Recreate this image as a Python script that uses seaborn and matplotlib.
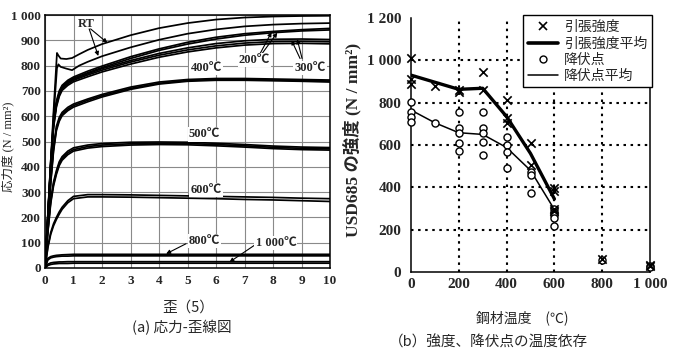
import matplotlib
matplotlib.use('Agg')
import matplotlib.pyplot as plt
import seaborn as sns
import pandas as pd
from matplotlib.lines import Line2D

# ---------------- data: (a) stress-strain curves ----------------
strain_rt = [0, 0.2, 0.3, 0.42, 0.47, 0.55, 0.75, 0.95, 1.2, 1.5, 2, 3, 4, 5, 6, 7, 8, 9, 10]
rt_upper = [0, 420, 620, 850, 840, 828, 826, 830, 845, 862, 885, 920, 948, 968, 982, 990, 994, 996, 997]
rt_lower = [0, 400, 600, 790, 805, 795, 788, 782, 800, 815, 837, 872, 902, 926, 943, 955, 962, 966, 968]

strain_g = [0, 0.1, 0.2, 0.3, 0.4, 0.5, 0.6, 0.8, 1.0, 1.5, 2, 3, 4, 5, 6, 7, 8, 9, 10]
c200a = [0, 210, 420, 580, 660, 700, 722, 742, 755, 778, 798, 835, 866, 892, 912, 926, 935, 942, 947]
c200b = [0, 205, 410, 570, 650, 692, 716, 737, 750, 772, 792, 828, 860, 885, 905, 920, 930, 937, 941]
c300a = [0, 205, 410, 570, 650, 690, 713, 733, 746, 768, 788, 820, 848, 870, 887, 898, 904, 905, 903]
c300b = [0, 200, 400, 560, 642, 684, 708, 728, 742, 763, 782, 814, 841, 862, 878, 889, 895, 896, 894]
c300c = [0, 200, 400, 555, 636, 678, 702, 722, 736, 756, 775, 806, 833, 854, 870, 881, 887, 888, 886]
c400a = [0, 180, 350, 480, 560, 595, 615, 635, 648, 668, 686, 715, 735, 745, 749, 749, 747, 745, 743]
c400b = [0, 175, 340, 470, 550, 588, 608, 628, 642, 663, 681, 710, 730, 741, 745, 745, 743, 741, 739]
c400c = [0, 170, 335, 462, 543, 580, 602, 622, 636, 657, 676, 706, 727, 738, 742, 742, 740, 738, 735]
c500a = [0, 150, 270, 340, 385, 420, 440, 462, 475, 486, 492, 497, 498, 497, 493, 488, 482, 478, 476]
c500b = [0, 145, 262, 332, 377, 412, 433, 455, 468, 480, 486, 491, 493, 492, 488, 483, 477, 473, 471]
c500c = [0, 140, 255, 325, 370, 405, 426, 448, 462, 474, 480, 486, 488, 487, 483, 478, 472, 468, 466]
c600a = [0, 85, 140, 175, 200, 222, 240, 266, 283, 290, 290, 289, 287, 285, 283, 281, 279, 276, 274]
c600b = [0, 80, 133, 167, 192, 213, 232, 258, 274, 281, 281, 280, 278, 276, 274, 271, 269, 266, 263]
c800a = [0, 38, 45, 48, 50, 51, 52, 53, 54, 54, 54, 54, 54, 54, 54, 54, 54, 54, 54]
c800b = [0, 32, 40, 43, 45, 46, 47, 47, 48, 48, 48, 48, 48, 48, 48, 48, 48, 48, 48]
c1000a = [0, 15, 20, 22, 23, 24, 24, 25, 25, 25, 25, 25, 25, 25, 25, 25, 25, 25, 25]
c1000b = [0, 10, 14, 16, 17, 18, 18, 18, 19, 19, 19, 19, 19, 19, 19, 19, 19, 19, 19]

left_xticks = [0, 1, 2, 3, 4, 5, 6, 7, 8, 9, 10]
left_yticks = [0, 100, 200, 300, 400, 500, 600, 700, 800, 900, 1000]
left_ylabels = ['0', '100', '200', '300', '400', '500', '600', '700', '800', '900', '1 000']

# ---------------- data: (b) strength vs temperature ----------------
ts_temp = [0, 0, 0, 100, 200, 200, 300, 300, 400, 400, 400, 500, 500, 600, 600, 600, 600, 800, 1000, 1000]
ts_val = [1010, 910, 890, 880, 860, 850, 945, 860, 812, 727, 705, 608, 505, 395, 385, 300, 290, 62, 35, 28]
yp_temp = [0, 0, 0, 0, 100, 200, 200, 200, 200, 200, 300, 300, 300, 300, 300,
           400, 400, 400, 400, 500, 500, 500, 600, 600, 600, 600, 600, 800, 1000, 1000]
yp_val = [805, 757, 734, 710, 705, 757, 682, 658, 608, 572, 757, 679, 658, 616, 553,
          639, 600, 568, 490, 474, 460, 372, 300, 285, 270, 255, 215, 58, 30, 22]
avg_ts_temp = [0, 200, 300, 400, 500, 600]
avg_ts_val = [930, 863, 868, 734, 560, 345]
avg_yp_temp = [0, 100, 200, 300, 400, 500, 600]
avg_yp_val = [765, 705, 658, 650, 588, 480, 295]
right_xticks = [0, 200, 400, 600, 800, 1000]
right_xlabels = ['0', '200', '400', '600', '800', '1 000']
right_yticks = [0, 200, 400, 600, 800, 1000, 1200]
right_ylabels = ['0', '200', '400', '600', '800', '1 000', '1 200']
legend_labels = ['引張強度', '引張強度平均', '降伏点', '降伏点平均']

sns.set_style('white')
SERIF = ['Liberation Serif', 'Noto Sans CJK JP', 'DejaVu Sans']
CJK = ['Noto Sans CJK JP', 'DejaVu Sans']
plt.rcParams['font.family'] = SERIF

fig = plt.figure(figsize=(6.76, 3.55), dpi=100)
axL = fig.add_axes([45/676, 87/355, 285/676, 253/355])
axR = fig.add_axes([411/676, 83/355, 239/676, 254/355])

# ---------------- left panel ----------------
curves = {'RTa': (strain_rt, rt_upper), 'RTb': (strain_rt, rt_lower),
          '200a': (strain_g, c200a), '200b': (strain_g, c200b),
          '300a': (strain_g, c300a), '300b': (strain_g, c300b), '300c': (strain_g, c300c),
          '400a': (strain_g, c400a), '400b': (strain_g, c400b), '400c': (strain_g, c400c),
          '500a': (strain_g, c500a), '500b': (strain_g, c500b), '500c': (strain_g, c500c),
          '600a': (strain_g, c600a), '600b': (strain_g, c600b),
          '800a': (strain_g, c800a), '800b': (strain_g, c800b),
          '1000a': (strain_g, c1000a), '1000b': (strain_g, c1000b)}
rows = []
for name, (xs, ys) in curves.items():
    for xv, yv in zip(xs, ys):
        rows.append({'curve': name, 'strain': xv, 'stress': yv})
df = pd.DataFrame(rows)
sns.lineplot(data=df, x='strain', y='stress', units='curve', estimator=None, sort=False,
             color='black', linewidth=1.25, ax=axL, legend=False, zorder=3)

axL.set_xlim(0, 10)
axL.set_ylim(0, 1000)
axL.set_xticks(left_xticks)
axL.set_xticklabels([str(v) for v in left_xticks])
axL.set_yticks(left_yticks)
axL.set_yticklabels(left_ylabels)
axL.grid(True, color='#8a8a8a', lw=0.8)
axL.set_axisbelow(True)
axL.tick_params(length=0, labelsize=9.5, pad=3)
axL.tick_params(axis='x', pad=5)
for t in axL.get_xticklabels() + axL.get_yticklabels():
    t.set_fontweight('bold')
for s in axL.spines.values():
    s.set_color('black')
    s.set_linewidth(1.1)
axL.set_xlabel('')
axL.set_ylabel('')

lab = dict(fontsize=9, fontweight='bold', ha='center', va='center', family=SERIF, zorder=5)
wb = dict(facecolor='white', edgecolor='none', pad=0.8)
arr = dict(arrowstyle='-|>', color='black', lw=0.8, mutation_scale=6, shrinkA=0, shrinkB=0)
axL.text(1.45, 965, 'RT', **lab)
axL.annotate('', xy=(2.19, 890), xytext=(1.6, 945), arrowprops=arr)
axL.annotate('', xy=(1.87, 838), xytext=(1.55, 945), arrowprops=arr)
axL.text(7.35, 822, '200℃', bbox=wb, **lab)
axL.annotate('', xy=(7.95, 932), xytext=(7.55, 848), arrowprops=arr)
axL.annotate('', xy=(8.15, 930), xytext=(7.62, 848), arrowprops=arr)
axL.text(9.3, 790, '300℃', bbox=wb, **lab)
axL.annotate('', xy=(8.65, 900), xytext=(8.95, 828), arrowprops=arr)
axL.annotate('', xy=(8.85, 904), xytext=(9.02, 828), arrowprops=arr)
axL.text(5.65, 790, '400℃', bbox=wb, **lab)
axL.text(5.6, 528, '500℃', bbox=wb, **lab)
axL.text(5.65, 308, '600℃', bbox=wb, **lab)
axL.text(5.6, 108, '800℃', bbox=wb, **lab)
axL.annotate('', xy=(4.25, 56), xytext=(4.95, 96), arrowprops=arr)
axL.text(8.1, 100, '1 000℃', bbox=wb, **lab)
axL.annotate('', xy=(6.47, 23), xytext=(7.35, 90), arrowprops=arr)

fig.text(8/676, 1 - 147/355, '応力度 (N / mm²)', rotation=90, ha='center', va='center',
         fontsize=9, family=SERIF)
fig.text(188/676, 1 - 308/355, '歪（5）', ha='center', va='center', fontsize=10.5, family=CJK)
fig.text(182/676, 1 - 328/355, '(a) 応力-歪線図', ha='center', va='center', fontsize=10.5, family=CJK)

# ---------------- right panel ----------------
gls = (0, (1.2, 2.2))
for v in right_xticks[1:-1]:
    axR.axvline(v, color='black', ls=gls, lw=1.5, zorder=1)
for v in right_yticks[1:-1]:
    axR.axhline(v, color='black', ls=gls, lw=1.5, zorder=1)

sns.lineplot(x=avg_ts_temp, y=avg_ts_val, color='black', linewidth=2.4, ax=axR, sort=False, zorder=2)
sns.lineplot(x=avg_yp_temp, y=avg_yp_val, color='black', linewidth=1.1, ax=axR, sort=False, zorder=2)
sns.scatterplot(x=ts_temp, y=ts_val, marker='x', color='black', s=36, linewidth=1.2,
                ax=axR, clip_on=False, zorder=4)
sns.scatterplot(x=yp_temp, y=yp_val, marker='o', color='white', edgecolor='black', s=26,
                linewidth=1.0, ax=axR, clip_on=False, zorder=3)

axR.set_xlim(0, 1000)
axR.set_ylim(0, 1200)
axR.set_xticks(right_xticks)
axR.set_xticklabels(right_xlabels)
axR.set_yticks(right_yticks)
axR.set_yticklabels(right_ylabels)
axR.grid(False)
axR.tick_params(length=0, labelsize=11)
axR.tick_params(axis='y', pad=7)
axR.tick_params(axis='x', pad=4)
for t in axR.get_xticklabels() + axR.get_yticklabels():
    t.set_fontweight('bold')
axR.spines['top'].set_visible(False)
for k in ['left', 'bottom', 'right']:
    axR.spines[k].set_color('black')
    axR.spines[k].set_linewidth(1.1)
axR.set_xlabel('')
axR.set_ylabel('')

handles = [Line2D([], [], marker='x', ls='none', color='black', ms=6, mew=1.2),
           Line2D([], [], color='black', lw=2.6),
           Line2D([], [], marker='o', ls='none', mfc='white', mec='black', ms=5, mew=1.0),
           Line2D([], [], color='black', lw=1.1)]
leg = axR.legend(handles, legend_labels, loc='upper right', bbox_to_anchor=(1.008, 1.01),
                 borderaxespad=0, frameon=True, fancybox=False, edgecolor='black', framealpha=1,
                 prop=dict(family=CJK, size=10), labelspacing=0.15, handlelength=2.2,
                 handletextpad=0.4, borderpad=0.35)
leg.get_frame().set_linewidth(1.0)
leg.set_zorder(6)

fig.text(352/676, 1 - 140/355, 'USD685 の強度 (N / mm²)', rotation=90, ha='center', va='center',
         fontsize=12.5, fontweight='bold', family=SERIF)
fig.text(522/676, 1 - 318/355, '鋼材温度　(℃)', ha='center', va='center', fontsize=10, family=CJK)
fig.text(488/676, 1 - 342/355, '（b）強度、降伏点の温度依存', ha='center', va='center',
         fontsize=10.5, family=CJK)

fig.savefig('out.png', dpi=100)
